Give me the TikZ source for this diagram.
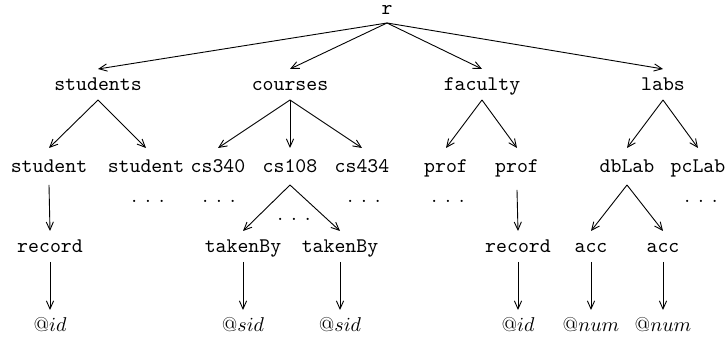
\documentclass[tikz,border=0pt]{standalone}
\usetikzlibrary{arrows.meta}
\begin{document}
\begin{tikzpicture}[x=0.5pt,y=-0.5pt,
  lbl/.style={font=\fontsize{10.4}{12}\selectfont\ttfamily, inner sep=0pt, text height=6.5pt, text depth=0pt, anchor=base, outer ysep=4.5pt},
  lvtwo/.style={lbl, outer ysep=6pt},
  att/.style={font=\fontsize{10.4}{12}\selectfont, inner sep=0pt, text height=6.5pt, text depth=0pt, anchor=base, outer ysep=4.5pt},
  dts/.style={font=\fontsize{10.4}{12}\selectfont, inner sep=0pt, anchor=base},
  arr/.style={-{Straight Barb[length=4pt,width=3.6pt]}, line width=0.45pt}]
\useasboundingbox (0,0) rectangle (728,340);
% root
\node[lbl, text height=4.5pt, outer ysep=4pt] (r) at (387,15) {r};
% level 1
\node[lbl] (students) at (98,91) {students};
\node[lbl] (courses) at (290,91) {courses};
\node[lbl] (faculty) at (482,91) {faculty};
\node[lbl] (labs) at (663,91) {labs};
% level 2
\node[lvtwo] (st1) at (49,173) {student};
\node[lvtwo] (st2) at (146,173) {student};
\node[lvtwo] (cs340) at (218,173) {cs340};
\node[lvtwo] (cs108) at (290,173) {cs108};
\node[lvtwo] (cs434) at (362,173) {cs434};
\node[lvtwo] (prof1) at (446,173) {prof};
\node[lvtwo] (prof2) at (517,173) {prof};
\node[lvtwo] (dbLab) at (627,173) {dbLab};
\node[lvtwo] (pcLab) at (698,173) {pcLab};
% dots
\node[dts] (d1) at (148,203) {.\hspace{4pt}.\hspace{4pt}.};
\node[dts] (d2) at (219,203) {.\hspace{4pt}.\hspace{4pt}.};
\node[dts] (d3) at (294,221) {.\hspace{4pt}.\hspace{4pt}.};
\node[dts] (d4) at (364,203) {.\hspace{4pt}.\hspace{4pt}.};
\node[dts] (d5) at (448,203) {.\hspace{4pt}.\hspace{4pt}.};
\node[dts] (d6) at (701,203) {.\hspace{4pt}.\hspace{4pt}.};
% level 3
\node[lbl] (rec1) at (50,253) {record};
\node[lbl] (tb1) at (243,253) {takenBy};
\node[lbl] (tb2) at (340,253) {takenBy};
\node[lbl] (rec2) at (518,253) {record};
\node[lbl] (acc1) at (591,253) {acc};
\node[lbl] (acc2) at (663,253) {acc};
% level 4
\node[att] (id1) at (50,332) {$@id$};
\node[att] (sid1) at (243,332) {$@sid$};
\node[att] (sid2) at (340,332) {$@sid$};
\node[att] (id2) at (518,332) {$@id$};
\node[att] (num1) at (591,332) {$@num$};
\node[att] (num2) at (663,332) {$@num$};
% connectors
\foreach \t in {students,courses,faculty,labs} \draw[arr] (r.south) -- (\t.north);
\draw[arr] (students.south) -- (st1.north);
\draw[arr] (students.south) -- (st2.north);
\draw[arr] (courses.south) -- (cs340.north);
\draw[arr] (courses.south) -- (cs108.north);
\draw[arr] (courses.south) -- (cs434.north);
\draw[arr] (faculty.south) -- (prof1.north);
\draw[arr] (faculty.south) -- (prof2.north);
\draw[arr] (labs.south) -- (dbLab.north);
\draw[arr] (labs.south) -- (pcLab.north);
\draw[arr] (st1.south) -- (rec1.north);
\draw[arr] (cs108.south) -- (tb1.north);
\draw[arr] (cs108.south) -- (tb2.north);
\draw[arr] ([yshift=-2.5pt]prof2.south) -- (rec2.north);
\draw[arr] (dbLab.south) -- (acc1.north);
\draw[arr] (dbLab.south) -- (acc2.north);
\draw[arr] (rec1.south) -- (id1.north);
\draw[arr] (tb1.south) -- (sid1.north);
\draw[arr] (tb2.south) -- (sid2.north);
\draw[arr] (rec2.south) -- (id2.north);
\draw[arr] (acc1.south) -- (num1.north);
\draw[arr] (acc2.south) -- (num2.north);
\end{tikzpicture}
\end{document}
